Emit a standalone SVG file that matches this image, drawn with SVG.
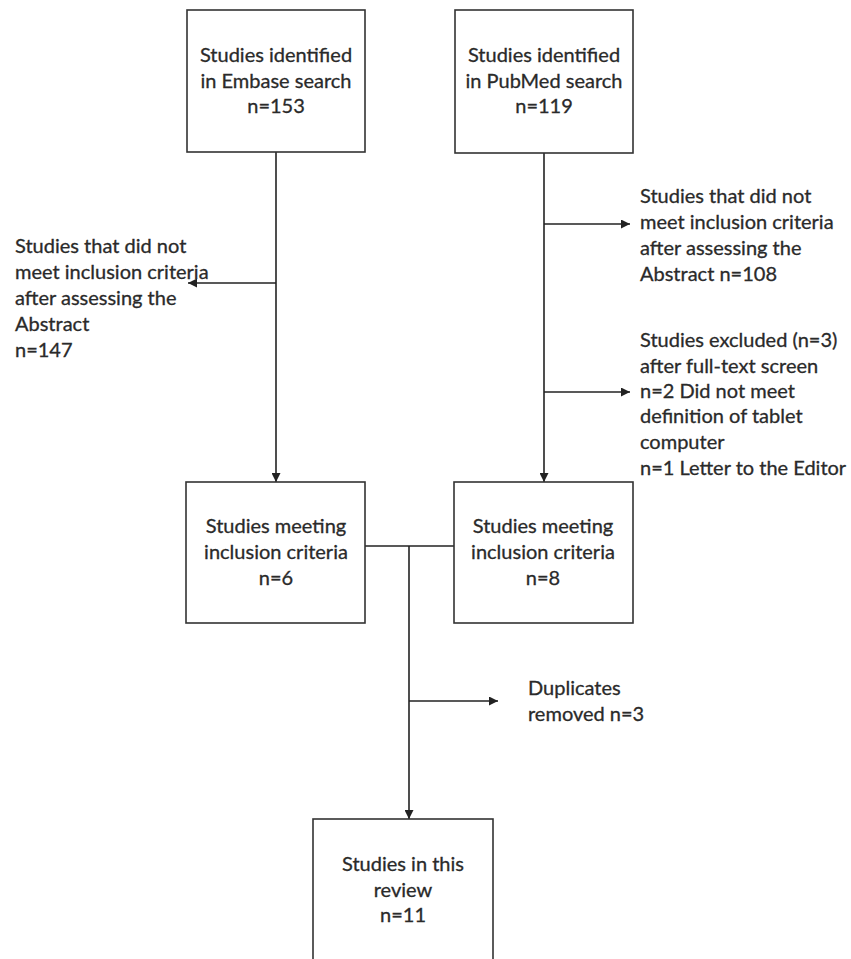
<svg xmlns="http://www.w3.org/2000/svg" width="851" height="959" viewBox="0 0 851 959">
<defs>
<marker id="arr" viewBox="0 0 10 10" refX="10" refY="5" markerUnits="userSpaceOnUse" markerWidth="10" markerHeight="9" orient="auto">
<path d="M0,0 L10,5 L0,10 z" fill="#222"/>
</marker>
<style>
.box{fill:#fff;stroke:#333;stroke-width:1.6}
.ln{fill:none;stroke:#222;stroke-width:1.6}
text{font-family:Lato,"Open Sans","Liberation Sans",sans-serif;font-size:20px;fill:#2a2a2a;stroke:#2a2a2a;stroke-width:0.3}
.c{text-anchor:middle}
</style>
</defs>
<rect width="851" height="959" fill="#fff"/>
<g id="connectors">
<line class="ln" x1="276" y1="152" x2="276" y2="482" marker-end="url(#arr)"/>
<line class="ln" x1="544" y1="153" x2="544" y2="482" marker-end="url(#arr)"/>
<line class="ln" x1="276" y1="283" x2="188" y2="283" marker-end="url(#arr)"/>
<line class="ln" x1="544" y1="224" x2="630" y2="224" marker-end="url(#arr)"/>
<line class="ln" x1="544" y1="392" x2="630" y2="392" marker-end="url(#arr)"/>
<line class="ln" x1="365" y1="546" x2="454" y2="546"/>
<line class="ln" x1="409" y1="546" x2="409" y2="819" marker-end="url(#arr)"/>
<line class="ln" x1="409" y1="701" x2="498" y2="701" marker-end="url(#arr)"/>
</g>
<g id="embase">
<rect class="box" x="187" y="10" width="178" height="142"/>
<text class="c" x="276" y="62">Studies identified</text>
<text class="c" x="276" y="88">in Embase search</text>
<text class="c" x="276" y="113">n=153</text>
</g>
<g id="pubmed">
<rect class="box" x="455" y="10" width="178" height="143"/>
<text class="c" x="544" y="62">Studies identified</text>
<text class="c" x="544" y="88">in PubMed search</text>
<text class="c" x="544" y="113">n=119</text>
</g>
<g id="excl-embase">
<text x="15" y="253">Studies that did not</text>
<text x="15" y="279">meet inclusion criteria</text>
<text x="15" y="305">after assessing the</text>
<text x="15" y="331">Abstract</text>
<text x="15" y="357">n=147</text>
</g>
<g id="excl-pubmed-abstract">
<text x="640" y="203">Studies that did not</text>
<text x="640" y="229">meet inclusion criteria</text>
<text x="640" y="255">after assessing the</text>
<text x="640" y="281">Abstract n=108</text>
</g>
<g id="excl-pubmed-fulltext">
<text x="640" y="347">Studies excluded (n=3)</text>
<text x="640" y="373">after full-text screen</text>
<text x="640" y="398">n=2 Did not meet</text>
<text x="640" y="423">definition of tablet</text>
<text x="640" y="449">computer</text>
<text x="640" y="475">n=1 Letter to the Editor</text>
</g>
<g id="meet-embase">
<rect class="box" x="186" y="482" width="179" height="141"/>
<text class="c" x="276" y="533">Studies meeting</text>
<text class="c" x="276" y="559">inclusion criteria</text>
<text class="c" x="276" y="585">n=6</text>
</g>
<g id="meet-pubmed">
<rect class="box" x="454" y="482" width="179" height="141"/>
<text class="c" x="543" y="533">Studies meeting</text>
<text class="c" x="543" y="559">inclusion criteria</text>
<text class="c" x="543" y="585">n=8</text>
</g>
<g id="duplicates">
<text x="528" y="695">Duplicates</text>
<text x="528" y="721">removed n=3</text>
</g>
<g id="review">
<rect class="box" x="313" y="819" width="180" height="160"/>
<text class="c" x="403" y="871">Studies in this</text>
<text class="c" x="403" y="897">review</text>
<text class="c" x="403" y="922">n=11</text>
</g>
</svg>
